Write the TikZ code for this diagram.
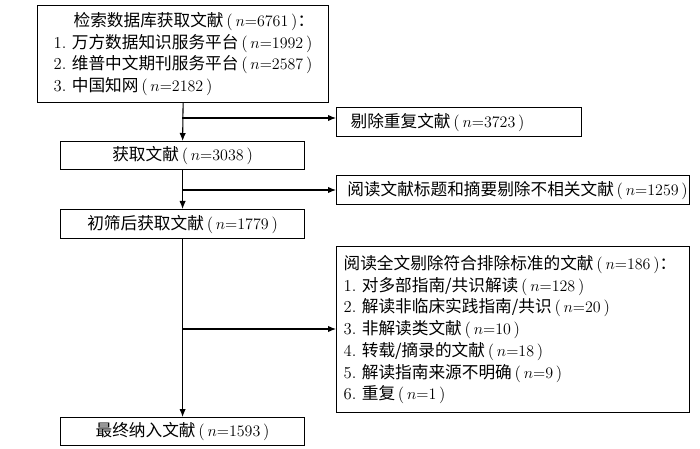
\documentclass[tikz,border=0pt]{standalone}
\usepackage{fontspec}
\newfontfamily\cjk{Noto Sans CJK SC}
\usetikzlibrary{arrows.meta}
\newcommand\zh[1]{{\cjk #1}}
\newcommand\nn[1]{\,(\,$n{=}#1$\,)}
\begin{document}
\begin{tikzpicture}[x=0.75pt,y=-0.75pt,
  box/.style={draw,line width=0.9pt,anchor=north west,inner ysep=0pt,
    font=\fontsize{12.5pt}{16.3pt}\selectfont},
  cbox/.style={box,align=center},
  lbox/.style={box,align=left},
  arr/.style={line width=0.8pt,-{Latex[length=6pt,width=4.8pt]}}]
\useasboundingbox (0,0) rectangle (700,449);
\fill[white] (0,0) rectangle (700,449);
% main column
\node[lbox,minimum width=218.25pt,minimum height=72.75pt,inner xsep=12pt,text width=194.25pt] (b1) at (37,5)
  {\hspace*{1.2em}\zh{检索数据库获取文献}\nn{6761}\zh{：}\\
   1.~\zh{万方数据知识服务平台}\nn{1992}\\
   2.~\zh{维普中文期刊服务平台}\nn{2587}\\
   3.~\zh{中国知网}\nn{2182}};
\node[cbox,minimum width=183pt,minimum height=21pt] (ba) at (60,141)
  {\zh{获取文献}\nn{3038}};
\node[cbox,minimum width=183pt,minimum height=21.75pt] (bb) at (60,209)
  {\zh{初筛后获取文献}\nn{1779}};
\node[cbox,minimum width=183pt,minimum height=21pt] (bc) at (60,417)
  {\zh{最终纳入文献}\nn{1593}};
% side boxes
\node[lbox,minimum width=183.75pt,minimum height=21.75pt,inner xsep=10.5pt,text width=162.75pt] (b2) at (336,107)
  {\zh{剔除重复文献}\nn{3723}};
\node[lbox,minimum width=264.75pt,minimum height=21.75pt,inner xsep=8pt,text width=248.75pt] (b3) at (336,175)
  {\zh{阅读文献标题和摘要剔除不相关文献}\nn{1259}};
\node[lbox,minimum width=264.75pt,minimum height=124.5pt,inner xsep=5.25pt,text width=254.25pt] (b4) at (336,246)
  {\zh{阅读全文剔除符合排除标准的文献}\nn{186}\zh{：}\\
   1.~\zh{对多部指南/共识解读}\nn{128}\\
   2.~\zh{解读非临床实践指南/共识}\nn{20}\\
   3.~\zh{非解读类文献}\nn{10}\\
   4.~\zh{转载/摘录的文献}\nn{18}\\
   5.~\zh{解读指南来源不明确}\nn{9}\\
   6.~\zh{重复}\nn{1}};
% connectors
\draw[arr] (b1.south) -- (ba.north);
\draw[arr] (ba.south) -- (bb.north);
\draw[arr] (bb.south) -- (bc.north);
\coordinate (j1) at (182,118);
\coordinate (j2) at (182,190);
\coordinate (j3) at (182,329);
\draw[arr] (j1) -- (j1 -| b2.west);
\draw[arr] (j2) -- (j2 -| b3.west);
\draw[arr] (j3) -- (j3 -| b4.west);
\end{tikzpicture}
\end{document}
